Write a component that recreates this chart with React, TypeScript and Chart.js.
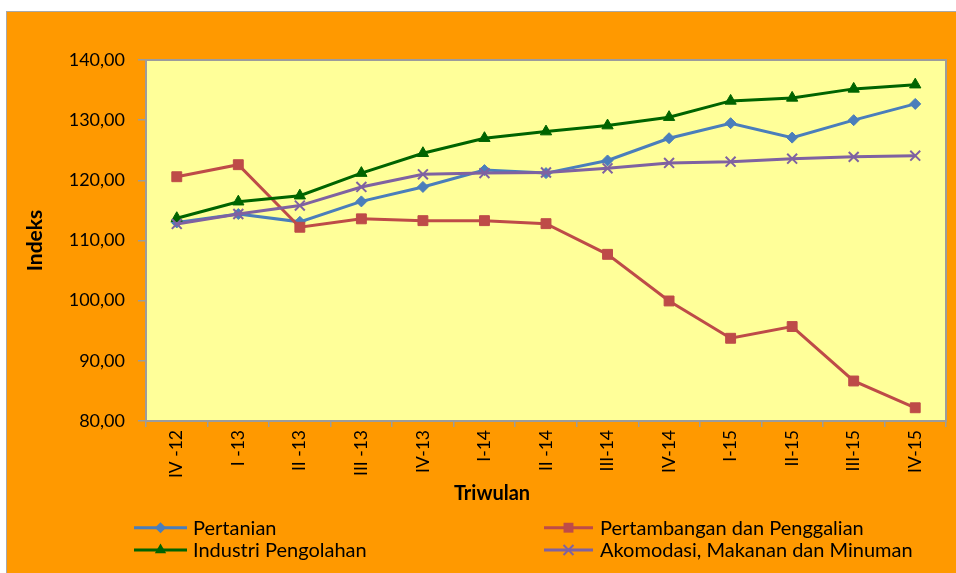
import React, { useEffect, useRef } from 'react';
import { Chart, registerables } from 'chart.js';

Chart.register(...registerables);

const categories = ['IV -12', 'I -13', 'II -13', 'III -13', 'IV-13', 'I-14', 'II -14', 'III-14', 'IV-14', 'I-15', 'II-15', 'III-15', 'IV-15'];
const pertanian = [113.0, 114.4, 113.1, 116.5, 118.9, 121.7, 121.2, 123.3, 127.0, 129.5, 127.1, 130.0, 132.7];
const pertambangan = [120.6, 122.6, 112.2, 113.6, 113.3, 113.3, 112.8, 107.7, 99.95, 93.75, 95.7, 86.65, 82.2];
const industri = [113.7, 116.45, 117.45, 121.2, 124.5, 127.0, 128.1, 129.1, 130.5, 133.2, 133.7, 135.2, 135.9];
const akomodasi = [112.75, 114.4, 115.8, 118.9, 121.0, 121.2, 121.3, 122.0, 122.9, 123.1, 123.6, 123.9, 124.1];
const seriesNames = ['Pertanian', 'Pertambangan dan Penggalian', 'Industri Pengolahan', 'Akomodasi, Makanan dan Minuman'];
const yMin = 80;
const yMax = 140;
const yStep = 10;
const xTitle = 'Triwulan';
const yTitle = 'Indeks';

const FONT = "Lato, 'Open Sans', sans-serif";
const COLORS = ['#4A7EBB', '#BE4B48', '#006400', '#7F62A1'];
const STYLES = ['rectRot', 'rect', 'triangle', 'crossRot'];
const RADII = [5.5, 7, 6.5, 7];

function drawMarker(ctx: CanvasRenderingContext2D, style: string, x: number, y: number, r: number, color: string) {
  ctx.save();
  ctx.fillStyle = color;
  ctx.strokeStyle = color;
  ctx.lineWidth = 2;
  ctx.beginPath();
  if (style === 'rectRot') {
    ctx.moveTo(x, y - r); ctx.lineTo(x + r, y); ctx.lineTo(x, y + r); ctx.lineTo(x - r, y); ctx.closePath(); ctx.fill();
  } else if (style === 'rect') {
    const s = r * Math.SQRT1_2;
    ctx.rect(x - s, y - s, 2 * s, 2 * s); ctx.fill();
  } else if (style === 'triangle') {
    ctx.moveTo(x, y - r); ctx.lineTo(x + r * 0.87, y + r * 0.5); ctx.lineTo(x - r * 0.87, y + r * 0.5); ctx.closePath(); ctx.fill();
  } else {
    const s = r * Math.SQRT1_2;
    ctx.moveTo(x - s, y - s); ctx.lineTo(x + s, y + s); ctx.moveTo(x + s, y - s); ctx.lineTo(x - s, y + s); ctx.stroke();
  }
  ctx.restore();
}

const decorPlugin = {
  id: 'decor',
  beforeDraw(chart: any) {
    const { ctx, chartArea: a } = chart;
    ctx.save();
    ctx.fillStyle = '#FFFF99';
    ctx.fillRect(a.left, a.top, a.right - a.left, a.bottom - a.top);
    ctx.restore();
  },
  beforeDatasetsDraw(chart: any) {
    const { ctx, chartArea: a } = chart;
    ctx.save();
    ctx.strokeStyle = '#9C9C9C';
    ctx.lineWidth = 2;
    ctx.strokeRect(a.left, a.top, a.right - a.left, a.bottom - a.top);
    ctx.restore();
  },
  afterDraw(chart: any) {
    const { ctx } = chart;
    ctx.save();
    ctx.fillStyle = '#000';
    ctx.font = `bold 20px ${FONT}`;
    ctx.textAlign = 'center';
    ctx.textBaseline = 'middle';
    ctx.fillText(xTitle, 485, 482);
    const cols = [{ x0: 127, x1: 180, tx: 186 }, { x0: 537, x1: 586, tx: 593 }];
    const rows = [515.7, 538];
    ctx.font = `20px ${FONT}`;
    ctx.textAlign = 'left';
    seriesNames.forEach((name, i) => {
      const c = cols[i % 2];
      const y = rows[Math.floor(i / 2)];
      ctx.strokeStyle = COLORS[i];
      ctx.lineWidth = 3;
      ctx.beginPath();
      ctx.moveTo(c.x0, y);
      ctx.lineTo(c.x1, y);
      ctx.stroke();
      drawMarker(ctx, STYLES[i], (c.x0 + c.x1) / 2, y, RADII[i], COLORS[i]);
      ctx.fillStyle = '#000';
      ctx.fillText(name, c.tx, y + 1);
    });
    ctx.restore();
  },
};

export default function App() {
  const ref = useRef<HTMLCanvasElement>(null);
  useEffect(() => {
    if (!ref.current) return;
    const series = [pertanian, pertambangan, industri, akomodasi];
    const chart = new Chart(ref.current, {
      type: 'line',
      data: {
        labels: categories,
        datasets: series.map((d, i) => ({
          label: seriesNames[i],
          data: d,
          borderColor: COLORS[i],
          backgroundColor: COLORS[i],
          pointBackgroundColor: COLORS[i],
          pointBorderColor: COLORS[i],
          pointStyle: STYLES[i] as any,
          pointRadius: RADII[i],
          pointBorderWidth: i === 3 ? 2 : 1,
          borderWidth: 3,
          tension: 0,
          fill: false,
          order: 4 - i,
        })),
      },
      options: {
        responsive: false,
        animation: false,
        devicePixelRatio: 1,
        layout: { padding: { left: 0, top: 48, right: 10, bottom: 62 } },
        plugins: { legend: { display: false }, tooltip: { enabled: false } },
        scales: {
          x: {
            offset: true,
            border: { display: false },
            grid: { offset: true, drawOnChartArea: false, tickLength: 6, color: '#9C9C9C', lineWidth: 1.5 },
            ticks: { autoSkip: false, minRotation: 90, maxRotation: 90, padding: 3, color: '#000', font: { family: FONT, size: 17.5 } },
            afterFit: (s: any) => { s.height = 90; },
          },
          y: {
            min: yMin,
            max: yMax,
            border: { display: false },
            grid: { drawOnChartArea: false, tickLength: 8, color: '#9C9C9C', lineWidth: 1.5 },
            ticks: {
              stepSize: yStep,
              padding: 13,
              color: '#000',
              font: { family: FONT, size: 18 },
              callback: (v: any) => Number(v).toFixed(2).replace('.', ','),
            },
            title: { display: true, text: yTitle, color: '#000', font: { family: FONT, size: 21, weight: 'bold' }, padding: { top: 16, bottom: 0 } },
            afterFit: (s: any) => { s.width = 139; },
          },
        },
      },
      plugins: [decorPlugin],
    });
    return () => chart.destroy();
  }, []);
  return (
    <div style={{ position: 'absolute', left: 0, top: 0, width: 956, height: 573, background: '#fff', overflow: 'hidden' }}>
      <div style={{ position: 'absolute', left: 6, top: 11, width: 950, height: 562, background: '#FF9900', borderLeft: '1px solid #A8A8A8', borderTop: '1px solid #A8A8A8' }}>
        <canvas ref={ref} width={949} height={561} style={{ display: 'block', width: 949, height: 561 }} />
      </div>
    </div>
  );
}
